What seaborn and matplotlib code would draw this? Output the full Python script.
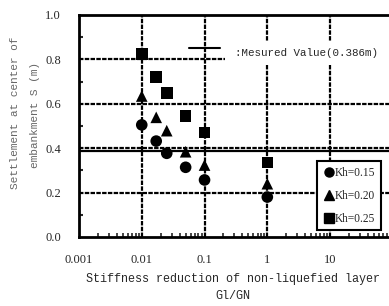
import numpy as np
import pandas as pd
import matplotlib
matplotlib.use("Agg")
import matplotlib.pyplot as plt
import seaborn as sns
from matplotlib.lines import Line2D

# Values
gl_gn = [0.01, 0.017, 0.025, 0.05, 0.1, 1]
s_kh015 = [0.505, 0.432, 0.377, 0.314, 0.257, 0.18]
s_kh020 = [0.635, 0.539, 0.479, 0.384, 0.324, 0.24]
s_kh025 = [0.823, 0.72, 0.65, 0.546, 0.47, 0.335]
kh_labels = ["Kh=0.15", "Kh=0.20", "Kh=0.25"]
measured = 0.386
x_ticks = [0.001, 0.01, 0.1, 1, 10, 100]
x_ticklabels = ["0.001", "0.01", "0.1", "1", "10", ""]
y_ticks = [0.0, 0.2, 0.4, 0.6, 0.8, 1.0]

df = pd.DataFrame({
    "x": gl_gn * 3,
    "S": s_kh015 + s_kh020 + s_kh025,
    "Kh": [kh_labels[0]] * 6 + [kh_labels[1]] * 6 + [kh_labels[2]] * 6,
})

sns.set_style("ticks")
plt.rcParams["font.family"] = ["Liberation Serif", "DejaVu Serif"]

fig = plt.figure(figsize=(3.89, 3.06), dpi=100)
ax = fig.add_axes([0.203, 0.2255, 0.807, 0.7255])

# grid lines
for yv in y_ticks[1:-1]:
    ax.axhline(yv, color="black", lw=1.6, ls=(0, (2, 0.6)), zorder=1)
for xv in x_ticks[1:-1]:
    ax.axvline(xv, color="black", lw=1.6, ls=(0, (2, 0.6)), zorder=1)
ax.axhline(measured, color="black", lw=1.6, zorder=1)

markers = {kh_labels[0]: "o", kh_labels[1]: "^", kh_labels[2]: "s"}
sns.scatterplot(data=df, x="x", y="S", style="Kh", markers=markers,
                color="black", s=70, edgecolor="black", linewidth=0,
                ax=ax, zorder=3, legend=False)

ax.set_xscale("log")
ax.set_xlim(0.001, 100)
ax.set_ylim(0, 1.0)
ax.set_xticks(x_ticks)
ax.set_xticklabels(x_ticklabels)
ax.set_yticks(y_ticks)
ax.set_yticklabels([f"{v:.1f}" for v in y_ticks])
ax.set_yticks(np.arange(0.1, 1.0, 0.2), minor=True)
ax.tick_params(axis="both", which="both", direction="in", labelsize=9)
ax.tick_params(axis="y", which="major", length=0, pad=13)
ax.tick_params(axis="x", which="major", length=0, pad=12)
ax.tick_params(axis="x", which="minor", length=3, width=1.2)
ax.tick_params(axis="y", which="minor", length=3, width=1.5)
for sp in ax.spines.values():
    sp.set_linewidth(2)
    sp.set_color("black")

ax.set_xlabel("Stiffness reduction of non-liquefied layer\nGl/GN",
              family="Liberation Mono", fontsize=8.5, linespacing=1.6)
ax.xaxis.set_label_coords(0.49, -0.16)
ax.set_ylabel("")

fig.text(0.039, 0.631, "Settlement at center of", rotation=90, ha="center",
         va="center", family="Liberation Mono", fontsize=8, color="#666666")
fig.text(0.09, 0.624, "embankment S (m)", rotation=90, ha="center",
         va="center", family="Liberation Mono", fontsize=8, color="#666666")

# measured value key (white patch behind the text hides the grid)
ax.axhspan(0.779, 0.883, xmin=0.465, xmax=1.0, color="white", lw=0, zorder=2)
ax.add_line(Line2D([0.35, 0.449], [0.851, 0.851], transform=ax.transAxes,
                   color="black", lw=1.5, zorder=4))
ax.text(0.497, 0.829, ":Mesured Value(0.386m)", transform=ax.transAxes,
        family="Liberation Mono", fontsize=7.8, va="center", zorder=5)

handles = [Line2D([], [], marker=markers[k], color="black", ls="none",
                  markersize=6.5) for k in kh_labels]
leg = ax.legend(handles, kh_labels, loc="lower right",
                bbox_to_anchor=(0.962, 0.03), frameon=True, fancybox=False,
                handletextpad=0.0, handlelength=1.0, borderpad=0.5,
                labelspacing=0.95, fontsize=8.3, borderaxespad=0)
leg.get_frame().set_edgecolor("black")
leg.get_frame().set_linewidth(1.5)
leg.get_frame().set_alpha(1)

fig.savefig("out.png", dpi=100)
